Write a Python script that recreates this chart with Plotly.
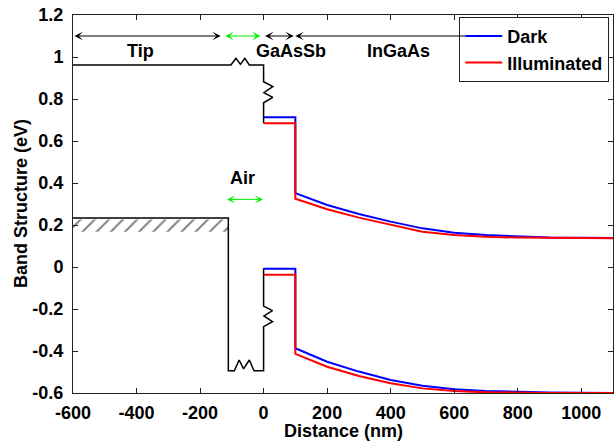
import plotly.graph_objects as go

# ---------------- data ----------------
x_tick_vals = [-600, -400, -200, 0, 200, 400, 600, 800, 1000]
x_tick_text = ['-600', '-400', '-200', '0', '200', '400', '600', '800', '1000']
y_tick_vals = [-0.6, -0.4, -0.2, 0, 0.2, 0.4, 0.6, 0.8, 1.0, 1.2]
y_tick_text = ['-0.6', '-0.4', '-0.2', '0', '0.2', '0.4', '0.6', '0.8', '1', '1.2']

# Tip Fermi level (with resistor-like zigzags), black
tip_top_x = [-600, -103, -87, -73, -59, -45, 0, 0, 29, 1, 29, 0, 0]
tip_top_y = [0.962, 0.962, 0.994, 0.965, 0.994, 0.962, 0.962, 0.882, 0.859, 0.83, 0.808, 0.782, 0.685]

# Tip metal edge / lower path (black)
tip_bot_x = [-600, -111, -111, -92, -77, -63, -45, -30, 0, 0, 28, 1, 28, 0, 0]
tip_bot_y = [0.233, 0.233, -0.494, -0.494, -0.443, -0.485, -0.443, -0.494, -0.494,
             -0.284, -0.26, -0.233, -0.208, -0.186, -0.006]

# Hatched band under the tip metal level
hatch_x = [-600, -111, -111, -600]
hatch_y = [0.226, 0.226, 0.168, 0.168]

# Band edges (nm, eV)
dist = [0, 100, 100, 150, 200, 300, 400, 500, 600, 700, 800, 900, 1000, 1100]
dark_cb = [0.713, 0.713, 0.352, 0.322, 0.295, 0.252, 0.216, 0.184, 0.163, 0.152, 0.145, 0.141, 0.139, 0.138]
illum_cb = [0.685, 0.685, 0.325, 0.299, 0.275, 0.235, 0.200, 0.168, 0.152, 0.144, 0.140, 0.138, 0.137, 0.137]
dark_vb = [-0.008, -0.008, -0.387, -0.419, -0.451, -0.498, -0.538, -0.565, -0.582, -0.590, -0.595, -0.598, -0.599, -0.600]
illum_vb = [-0.037, -0.037, -0.414, -0.443, -0.475, -0.519, -0.554, -0.578, -0.590, -0.597, -0.600, -0.600, -0.600, -0.600]

# Region arrows: (start, end, level, color)
region_arrows = [
    (-600, -135, 1.1, 'black'),
    (-125, -10, 1.1, '#00ee00'),
    (0, 95, 1.1, 'black'),
    (-120, -2, 0.322, '#00ee00'),
]
region_open_arrow = (100, 640, 1.1)  # runs under legend

# Region labels
labels = [('Tip', -389, 1.028), ('GaAsSb', 87, 1.028), ('InGaAs', 425, 1.028), ('Air', -67, 0.425)]

FONT = 'Liberation Sans, Arial, Helvetica, sans-serif'

fig = go.Figure()

fig.add_trace(go.Scatter(x=hatch_x, y=hatch_y, fill='toself', mode='none',
                         fillcolor='rgba(0,0,0,0)',
                         fillpattern=dict(shape='/', size=10, solidity=0.2,
                                          fgcolor='black', bgcolor='rgba(255,255,255,0)'),
                         showlegend=False, hoverinfo='skip'))
fig.add_trace(go.Scatter(x=tip_top_x, y=tip_top_y, mode='lines',
                         line=dict(color='black', width=1.5), showlegend=False))
fig.add_trace(go.Scatter(x=tip_bot_x, y=tip_bot_y, mode='lines',
                         line=dict(color='black', width=1.5), showlegend=False))

fig.add_trace(go.Scatter(x=dist, y=dark_cb, mode='lines', name='Dark', legendgroup='d',
                         line=dict(color='#0000ff', width=2)))
fig.add_trace(go.Scatter(x=dist, y=dark_vb, mode='lines', name='Dark', legendgroup='d',
                         showlegend=False, line=dict(color='#0000ff', width=2)))
fig.add_trace(go.Scatter(x=dist, y=illum_cb, mode='lines', name='Illuminated', legendgroup='i',
                         line=dict(color='#ff0000', width=2)))
fig.add_trace(go.Scatter(x=dist, y=illum_vb, mode='lines', name='Illuminated', legendgroup='i',
                         showlegend=False, line=dict(color='#ff0000', width=2)))

annotations = []
for x0, x1, lvl, col in region_arrows:
    annotations.append(dict(x=x1, y=lvl, ax=x0, ay=lvl, xref='x', yref='y', axref='x', ayref='y',
                            text='', showarrow=True, arrowside='end+start', arrowhead=3,
                            startarrowhead=3, arrowsize=1.4, startarrowsize=1.4,
                            arrowwidth=1, arrowcolor=col))
ox0, ox1, olvl = region_open_arrow
annotations.append(dict(x=ox0, y=olvl, ax=ox1, ay=olvl, xref='x', yref='y', axref='x', ayref='y',
                        text='', showarrow=True, arrowside='end', arrowhead=3, arrowsize=1.4,
                        arrowwidth=1, arrowcolor='black'))
for txt, lx, ly in labels:
    annotations.append(dict(x=lx, y=ly, xref='x', yref='y', text=txt, showarrow=False,
                            font=dict(family=FONT, size=18, color='black', weight='bold')))

annotations.append(dict(x=0.5, y=0, xref='paper', yref='paper', yshift=-38, xanchor='center',
                        yanchor='middle', text='Distance (nm)', showarrow=False,
                        font=dict(family=FONT, size=18, color='black', weight='bold')))
annotations.append(dict(x=0, y=0.5, xref='paper', yref='paper', xshift=-52, xanchor='center',
                        yanchor='middle', text='Band Structure (eV)', textangle=-90, showarrow=False,
                        font=dict(family=FONT, size=18, color='black', weight='bold')))

axis_common = dict(showline=True, linecolor='#222222', linewidth=1, mirror='ticks',
                   ticks='inside', ticklen=5, tickcolor='#222222', showgrid=False, zeroline=False,
                   automargin=False,
                   tickfont=dict(family=FONT, size=18, color='black', weight='bold'))

fig.update_layout(
    width=614, height=443,
    margin=dict(l=73, r=1, t=15, b=50, autoexpand=False),
    paper_bgcolor='white', plot_bgcolor='white',
    xaxis=dict(range=[-600, 1100], tickvals=x_tick_vals, ticktext=x_tick_text,
               ticklabelstandoff=3, **axis_common),
    yaxis=dict(range=[-0.6, 1.2], tickvals=y_tick_vals, ticktext=y_tick_text,
               ticklabelstandoff=5, **axis_common),
    legend=dict(x=0.7153, y=0.995, xanchor='left', yanchor='top',
                bgcolor='white', bordercolor='#222222', borderwidth=1,
                font=dict(family=FONT, size=18, color='black', weight='bold'),
                tracegroupgap=0, itemwidth=37),
    annotations=annotations,
    showlegend=True,
)

fig.write_html('out.html', config={'displayModeBar': False},
               post_script="document.body.style.margin='0';document.body.style.overflow='hidden';")
